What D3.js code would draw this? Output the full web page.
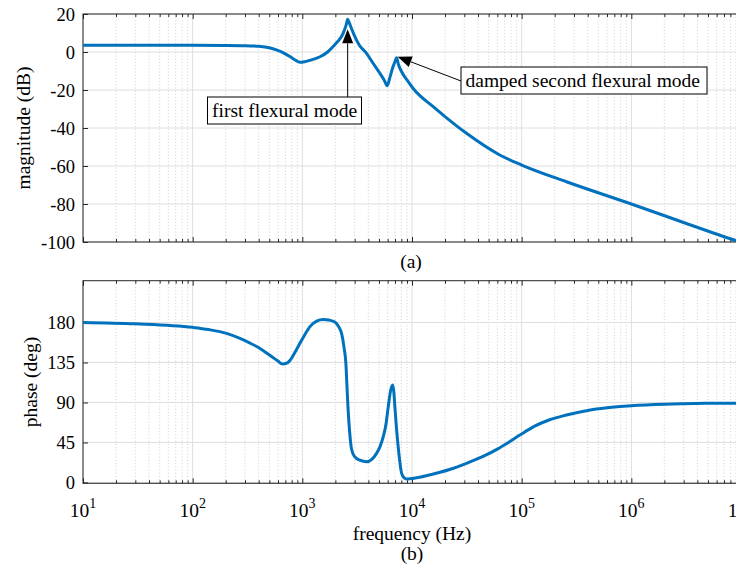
<!DOCTYPE html>
<html>
<head>
<meta charset="utf-8">
<script src="https://cdn.jsdelivr.net/npm/d3@7"></script>
<style>
  body { margin: 0; background: #fff; }
  svg text { font-family: "Liberation Serif", "Times New Roman", serif; fill: #000; }
  .grid-major line { stroke: #dedede; stroke-width: 1; }
  .grid-minor line { stroke: #c4c4c4; stroke-width: 0.8; stroke-dasharray: 1,2.2; }
  .ax path { display: none; }
  .ax line { stroke: #262626; }
</style>
</head>
<body>
<div id="chart"></div>
<script>
// magnitude response
const magFreq = [10, 30, 100, 200, 300, 400, 500, 580, 680, 770, 860, 950, 1050, 1200, 1450, 1700,
  1900, 2100, 2270, 2400, 2520, 2590, 2660, 2800, 2950, 3300, 3850, 4400, 5100, 5600, 5940,
  6300, 6700, 7000, 7240, 7500, 8040, 9000, 10250, 15600, 20000, 31400, 63100, 1e5, 2.56e5,
  1e6, 2.95e6, 8.77e6, 1e7];
const magDb = [3.5, 3.5, 3.5, 3.45, 3.35, 3.0, 2.2, 1.1, -0.6, -2.4, -4.2, -5.4, -5.1, -4.2, -2.5, 0,
  2.8, 5.5, 8.0, 11.0, 14.5, 17.2, 15.8, 12.5, 9.3, 3.7, -0.7, -5.8, -11.2, -15.0, -17.7,
  -13.2, -7.9, -5.0, -3.0, -6.3, -10.4, -14.7, -19.2, -28.8, -34.0, -42.8, -54.2, -59.5, -68.3,
  -80, -89.6, -99.1, -100.2];

// phase response
const phFreq = [10, 30, 100, 140, 204, 270, 330, 411, 520, 600, 660, 730, 795, 870, 950, 1050, 1175, 1350,
  1550, 1750, 1980, 2150, 2280, 2400, 2495, 2560, 2620, 2700, 2815, 3000, 3350, 3855, 4300,
  4750, 5100, 5470, 5800, 6070, 6400, 6660, 6850, 6980, 7240, 7590, 8040, 8500, 8920, 9570,
  12000, 15600, 22000, 31400, 45000, 60000, 77600, 96400, 1.3e5, 1.8e5, 2.56e5, 4e5, 6e5,
  1e6, 2e6, 2.95e6, 5e6, 1e7];
const phDeg = [180, 178.5, 174.5, 172, 167.7, 162, 157, 150.8, 142, 136.5, 133.2, 134.5, 139.6, 148, 156.5, 166, 175.3, 181.5,
  183.3, 182.7, 180.5, 175, 167.7, 152, 134, 105, 80, 57, 37, 29, 25, 23.3, 26,
  32.7, 40, 51.4, 66, 85, 104, 109.6, 100, 85, 59, 32.7, 10.2, 5, 3.8, 4.0,
  6, 9.4, 14.5, 21.5, 29.5, 37.5, 45.8, 53.3, 63, 70.5, 75.8, 81, 84,
  86.3, 88, 88.5, 89, 89.2];

const magTicks = [-100, -80, -60, -40, -20, 0, 20];
const phTicks = [0, 45, 90, 135, 180];
const decades = [1e1, 1e2, 1e3, 1e4, 1e5, 1e6, 1e7];

const W = 736, H = 567;
const left = 83, right = 741;
const blue = "#0072BD";
const serif = '"Liberation Serif", "Times New Roman", serif';

const svg = d3.select("#chart").append("svg")
  .attr("width", W).attr("height", H);

const x = d3.scaleLog().domain([10, 1e7]).range([left, right]);

let minors = [];
decades.slice(0, -1).forEach(d => {
  for (let k = 2; k <= 9; k++) minors.push(d * k);
});

function panel(top, bottom, yDomain, yTicks, freqs, vals, ylabel, labelX, showX) {
  const y = d3.scaleLinear().domain(yDomain).range([bottom, top]);
  const g = svg.append("g");
  const clipId = "clip" + Math.round(top);
  svg.append("clipPath").attr("id", clipId)
    .append("rect").attr("x", left).attr("y", top)
    .attr("width", right - left).attr("height", bottom - top);

  // grid
  g.append("g").attr("class", "grid-minor").selectAll("line").data(minors).join("line")
    .attr("x1", d => x(d)).attr("x2", d => x(d)).attr("y1", top).attr("y2", bottom);
  g.append("g").attr("class", "grid-major").selectAll("line").data(decades).join("line")
    .attr("x1", d => x(d)).attr("x2", d => x(d)).attr("y1", top).attr("y2", bottom);
  g.append("g").attr("class", "grid-major").selectAll("line").data(yTicks).join("line")
    .attr("x1", left).attr("x2", right).attr("y1", d => y(d)).attr("y2", d => y(d));

  // inward ticks on all four sides
  g.append("g").attr("class", "ax").attr("transform", `translate(0,${bottom})`)
    .call(d3.axisBottom(x).tickValues(decades).tickSize(-5).tickSizeOuter(0).tickFormat(""));
  g.append("g").attr("class", "ax").attr("transform", `translate(0,${bottom})`)
    .call(d3.axisBottom(x).tickValues(minors).tickSize(-3).tickSizeOuter(0).tickFormat(""));
  g.append("g").attr("class", "ax").attr("transform", `translate(0,${top})`)
    .call(d3.axisTop(x).tickValues(decades).tickSize(-5).tickSizeOuter(0).tickFormat(""));
  g.append("g").attr("class", "ax").attr("transform", `translate(0,${top})`)
    .call(d3.axisTop(x).tickValues(minors).tickSize(-3).tickSizeOuter(0).tickFormat(""));
  g.append("g").attr("class", "ax").attr("transform", `translate(${right},0)`)
    .call(d3.axisRight(y).tickValues(yTicks).tickSize(-5).tickSizeOuter(0).tickFormat(""));

  const yAx = g.append("g").attr("class", "ax").attr("transform", `translate(${left},0)`)
    .call(d3.axisLeft(y).tickValues(yTicks).tickSize(-5).tickSizeOuter(0).tickPadding(8)
      .tickFormat(d => String(d)));
  yAx.attr("font-family", null).attr("font-size", null);
  yAx.selectAll("text").attr("dy", "0.34em")
    .style("font-family", serif).style("font-size", "18.5px").style("fill", "#000");

  // frame
  g.append("rect").attr("x", left).attr("y", top)
    .attr("width", right - left).attr("height", bottom - top)
    .attr("fill", "none").attr("stroke", "#262626").attr("stroke-width", 1);

  // curve
  const pts = freqs.map((f, i) => [f, vals[i]]);
  const line = d3.line().x(d => x(d[0])).y(d => y(d[1])).curve(d3.curveMonotoneX);
  g.append("path").datum(pts)
    .attr("clip-path", `url(#${clipId})`)
    .attr("d", line).attr("fill", "none")
    .attr("stroke", blue).attr("stroke-width", 3)
    .attr("stroke-linejoin", "round").attr("stroke-linecap", "round");

  // y label
  svg.append("text")
    .attr("transform", `translate(${labelX},${(top + bottom) / 2}) rotate(-90)`)
    .attr("text-anchor", "middle").attr("font-size", 19.5).text(ylabel);

  if (showX) {
    const lab = svg.append("g").selectAll("text").data(decades).join("text")
      .attr("x", d => x(d)).attr("y", bottom + 34)
      .attr("text-anchor", "middle").attr("font-size", 19.5);
    lab.append("tspan").text("10");
    lab.append("tspan").attr("dy", -9).attr("font-size", 14)
      .text(d => Math.round(Math.log10(d)));
  }
  return y;
}

const yMag = panel(14, 242, [-100, 20], magTicks, magFreq, magDb, "magnitude (dB)", 30, false);
const yPh = panel(280.7, 483.3, [-1, 227], phTicks, phFreq, phDeg, "phase (deg)", 37, true);

// captions
svg.append("text").attr("x", 411).attr("y", 268).attr("text-anchor", "middle")
  .attr("font-size", 19.5).text("(a)");
svg.append("text").attr("x", 412).attr("y", 540).attr("text-anchor", "middle")
  .attr("font-size", 19.5).text("frequency (Hz)");
svg.append("text").attr("x", 412).attr("y", 560).attr("text-anchor", "middle")
  .attr("font-size", 19.5).text("(b)");

// annotations
function arrow(x1, y1, x2, y2) {
  const a = Math.atan2(y2 - y1, x2 - x1);
  const len = 14, half = 5.5;
  const bx = x2 - len * Math.cos(a), by = y2 - len * Math.sin(a);
  svg.append("line").attr("x1", x1).attr("y1", y1).attr("x2", bx).attr("y2", by)
    .attr("stroke", "#000").attr("stroke-width", 1);
  const px = -Math.sin(a) * half, py = Math.cos(a) * half;
  svg.append("polygon")
    .attr("points", [[x2, y2], [bx + px, by + py], [bx - px, by - py]].map(p => p.join(",")).join(" "))
    .attr("fill", "#000");
}
function note(bx, by, bw, bh, label) {
  svg.append("rect").attr("x", bx).attr("y", by).attr("width", bw).attr("height", bh)
    .attr("fill", "#fff").attr("stroke", "#000").attr("stroke-width", 1);
  svg.append("text").attr("x", bx + 4.5).attr("y", by + 19.5)
    .attr("font-size", 19.5).text(label);
}

arrow(x(2590), 97, x(2590), yMag(12));
note(207.5, 97, 154, 27, "first flexural mode");
arrow(461, 81, x(7400), yMag(-2.5));
note(461, 67, 246, 27, "damped second flexural mode");
</script>
</body>
</html>
